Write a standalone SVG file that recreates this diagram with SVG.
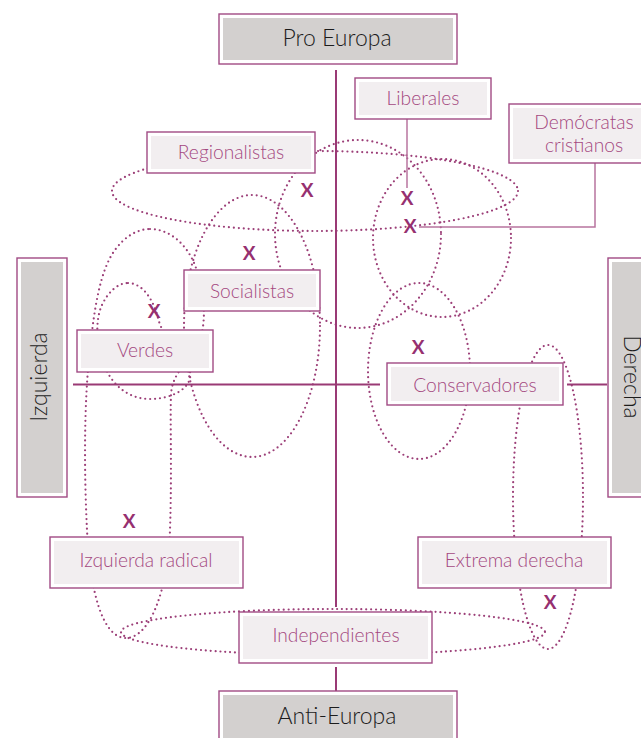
<svg xmlns="http://www.w3.org/2000/svg" width="641" height="738" viewBox="0 0 641 738">
<style>
.dot{fill:none;stroke:#9c3f78;stroke-width:2.2;stroke-linecap:round;stroke-dasharray:0 4.9}
.axis{stroke:#9a3a75;stroke-width:2;fill:none}
.conn{stroke:#b8749f;stroke-width:1.5;fill:none}
.ob{fill:#ffffff;stroke:#a14a84;stroke-width:1.4}
.ip{fill:#f2eef0}
.ia{fill:#d3d0cf}
.pt{font-family:Lato,"Liberation Sans",sans-serif;font-weight:300;font-size:19.2px;fill:#a4487f;text-anchor:middle}
.at{font-family:Lato,"Liberation Sans",sans-serif;font-weight:300;font-size:23px;fill:#1c1c1c;text-anchor:middle}
.x{font-family:Lato,"Liberation Sans",sans-serif;font-weight:700;font-size:19px;fill:#963070;text-anchor:middle}
</style>
<g id="regions">
<ellipse class="dot" cx="315" cy="191" rx="203" ry="40"/>
<ellipse class="dot" cx="358" cy="234" rx="83" ry="94"/>
<ellipse class="dot" cx="442" cy="238" rx="69" ry="79"/>
<ellipse class="dot" cx="252" cy="326" rx="68" ry="131"/>
<path class="dot" d="M128,283 C140,283 152,295 158,318 C163,340 185,355 190,372 C193,388 172,399 150,399 C128,399 112,385 104,365 C96,345 95,320 102,305 C108,292 118,283 128,283 Z"/>
<path class="dot" d="M150,229 C170,229 188,245 196,268 C204,290 207,318 200,340 C193,360 172,370 171,395 C170,420 172,470 170,530 C168,590 150,638 126,638 C102,638 90,590 87,530 C84,470 84,400 90,350 C94,310 100,270 115,250 C125,236 138,229 150,229 Z"/>
<ellipse class="dot" cx="419" cy="371" rx="51" ry="88"/>
<ellipse class="dot" cx="548" cy="497" rx="35" ry="152"/>
<ellipse class="dot" cx="333" cy="632" rx="212" ry="23"/>
</g>
<g id="connectors">
<line class="axis" x1="336" y1="70" x2="336" y2="607"/>
<line class="axis" x1="336" y1="667" x2="336" y2="691"/>
<line class="axis" x1="73" y1="384.5" x2="380" y2="384.5"/>
<line class="axis" x1="567" y1="384.5" x2="607" y2="384.5"/>
<line class="conn" x1="407" y1="119" x2="407" y2="188"/>
<polyline class="conn" points="595,163 595,227 419,227"/>
</g>
<g id="marks">
<text class="x" x="307" y="197">X</text>
<text class="x" x="407" y="205">X</text>
<text class="x" x="410" y="233">X</text>
<text class="x" x="249" y="260">X</text>
<text class="x" x="154" y="318">X</text>
<text class="x" x="418" y="354">X</text>
<text class="x" x="129" y="528">X</text>
<text class="x" x="550" y="609">X</text>
</g>
<g id="pro-europa"><rect class="ob" x="219" y="14" width="238" height="50"/><rect class="ia" x="223" y="18" width="230" height="42"/><text class="at" x="337" y="46">Pro Europa</text></g>
<g id="anti-europa"><rect class="ob" x="219" y="691" width="238" height="52"/><rect class="ia" x="223" y="695" width="230" height="48"/><text class="at" x="337" y="724">Anti-Europa</text></g>
<g id="izquierda"><rect class="ob" x="17" y="258" width="50" height="239"/><rect class="ia" x="21" y="262" width="42" height="231"/><text class="at" transform="translate(47,377) rotate(-90)">Izquierda</text></g>
<g id="derecha"><rect class="ob" x="608" y="258" width="50" height="239"/><rect class="ia" x="612" y="262" width="42" height="231"/><text class="at" transform="translate(624,377) rotate(90)">Derecha</text></g>
<g id="liberales"><rect class="ob" x="355" y="78" width="136" height="41"/><rect class="ip" x="359" y="82" width="128" height="33"/><text class="pt" x="423" y="105">Liberales</text></g>
<g id="democratas-cristianos"><rect class="ob" x="509" y="104" width="150" height="59"/><rect class="ip" x="513" y="108" width="142" height="51"/><text class="pt" x="584" y="129">Demócratas</text><text class="pt" x="584" y="152">cristianos</text></g>
<g id="regionalistas"><rect class="ob" x="147" y="132" width="168" height="41"/><rect class="ip" x="151" y="136" width="160" height="33"/><text class="pt" x="231" y="159">Regionalistas</text></g>
<g id="socialistas"><rect class="ob" x="184" y="270" width="136" height="41"/><rect class="ip" x="188" y="274" width="128" height="33"/><text class="pt" x="252" y="298">Socialistas</text></g>
<g id="verdes"><rect class="ob" x="77" y="330" width="136" height="42"/><rect class="ip" x="81" y="334" width="128" height="34"/><text class="pt" x="145" y="357">Verdes</text></g>
<g id="conservadores"><rect class="ob" x="387" y="363" width="176" height="42"/><rect class="ip" x="391" y="367" width="168" height="34"/><text class="pt" x="475" y="392">Conservadores</text></g>
<g id="izquierda-radical"><rect class="ob" x="50" y="537" width="193" height="51"/><rect class="ip" x="54" y="541" width="185" height="43"/><text class="pt" x="146" y="567">Izquierda radical</text></g>
<g id="extrema-derecha"><rect class="ob" x="418" y="537" width="193" height="51"/><rect class="ip" x="422" y="541" width="185" height="43"/><text class="pt" x="514" y="567">Extrema derecha</text></g>
<g id="independientes"><rect class="ob" x="239" y="612" width="193" height="51"/><rect class="ip" x="243" y="616" width="185" height="43"/><text class="pt" x="336" y="642">Independientes</text></g>
</svg>
